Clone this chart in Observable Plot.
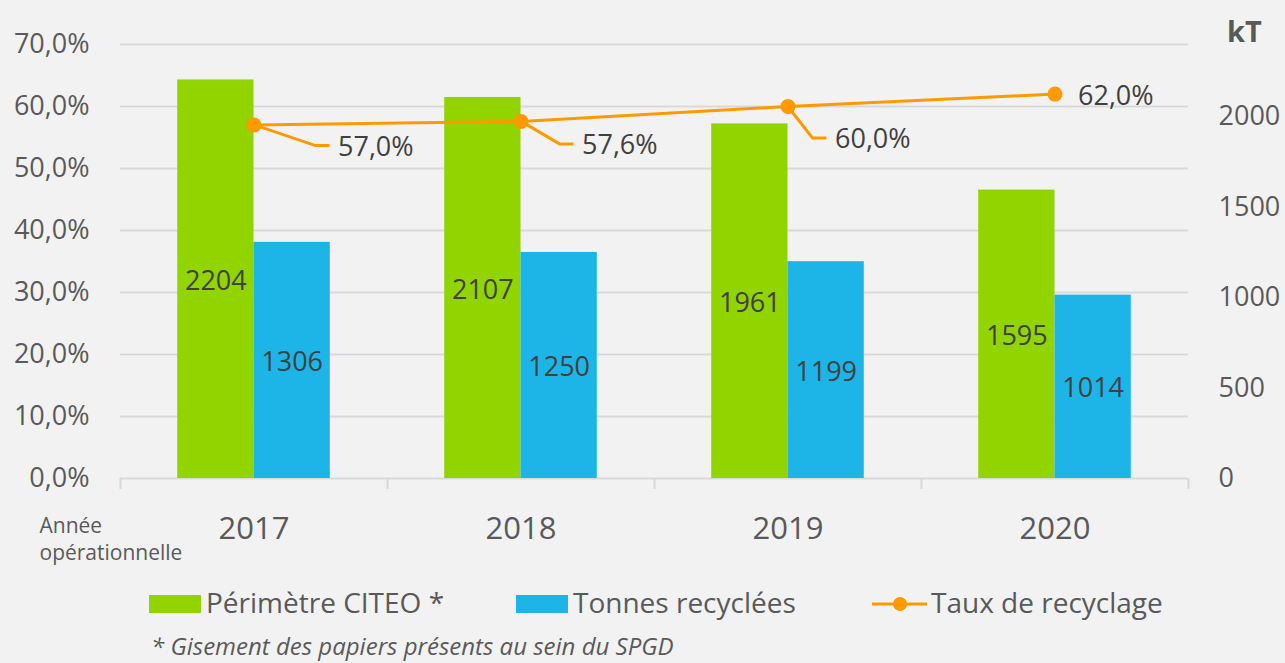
<!DOCTYPE html>
<html>
<head>
<meta charset="utf-8">
<script src="https://cdn.jsdelivr.net/npm/d3@7"></script>
<script src="https://cdn.jsdelivr.net/npm/@observablehq/plot@0.6"></script>
<style>
  html, body { margin: 0; padding: 0; background: #f2f2f2; }
  body { width: 1285px; height: 663px; position: relative; overflow: hidden; font-family: "Open Sans", sans-serif; }
  #chart svg { display: block; background: #f2f2f2; }
  .leg { position: absolute; font-size: 28px; color: #595959; line-height: 1; white-space: nowrap; }
  .sw { position: absolute; }
  #note { position: absolute; left: 151px; top: 634px; font-size: 24px; font-style: italic; color: #595959; white-space: nowrap; line-height: 1; }
</style>
</head>
<body>
<div id="chart"></div>
<div class="sw" style="left:149px;top:595px;width:52px;height:18px;background:#92d400"></div>
<div class="leg" style="left:206px;top:588px">Périmètre CITEO *</div>
<div class="sw" style="left:516px;top:595px;width:52px;height:18px;background:#1db5e8"></div>
<div class="leg" style="left:573px;top:588px">Tonnes recyclées</div>
<svg class="sw" style="left:872px;top:596px" width="56" height="16"><line x1="0" y1="8" x2="55" y2="8" stroke="#ff9900" stroke-width="3"/><circle cx="28" cy="8" r="7" fill="#ff9900"/></svg>
<div class="leg" style="left:931px;top:588px">Taux de recyclage</div>
<div id="note">* Gisement des papiers présents au sein du SPGD</div>
<script>
// ---- data ----
const years = ["2017", "2018", "2019", "2020"];
const perimetre = [2204, 2107, 1961, 1595];   // kT, Périmètre CITEO
const tonnes = [1306, 1250, 1199, 1014];      // kT, Tonnes recyclées
const taux = [0.570, 0.576, 0.600, 0.620];    // Taux de recyclage
const pctTicks = [0, 0.1, 0.2, 0.3, 0.4, 0.5, 0.6, 0.7];
const kTTicks = [0, 500, 1000, 1500, 2000];

// ---- layout ----
const pMax = 0.7, kMax = 2400;
const toP = k => k * pMax / kMax;
const bw = 0.2857;
const labelDx = [84, 61, 47, 23];
const labelDy = [21, 23, 32, 1];
const leader = [true, true, true, false];

const rows = years.map((y, i) => ({ year: y, i, per: perimetre[i], ton: tonnes[i], rate: taux[i] }));
const fmtPct = d => (d * 100).toFixed(1).replace(".", ",") + "%";

const leaders = (index, scales) => {
  const g = d3.create("svg:g");
  rows.forEach((d, i) => {
    if (!leader[i]) return;
    const px = scales.x(d.i + 0.5), py = scales.y(d.rate);
    const ex = px + labelDx[i] - 22, ey = py + labelDy[i];
    g.append("polyline")
      .attr("points", `${px},${py} ${ex},${ey} ${px + labelDx[i] - 8},${ey}`)
      .attr("fill", "none").attr("stroke", "#ff9900").attr("stroke-width", 3);
  });
  return g.node();
};

const chart = Plot.plot({
  width: 1285,
  height: 565,
  marginLeft: 120,
  marginRight: 97,
  marginTop: 44,
  marginBottom: 87,
  style: { background: "#f2f2f2", color: "#595959", fontFamily: "Open Sans, sans-serif", overflow: "visible" },
  x: { type: "linear", domain: [0, years.length], axis: null },
  y: { domain: [0, pMax], axis: null },
  marks: [
    Plot.gridY(pctTicks.slice(1), { stroke: "#d9d9d9", strokeWidth: 2, strokeOpacity: 1 }),
    Plot.ruleY([0], { stroke: "#d9d9d9", strokeWidth: 2 }),
    Plot.axisX(d3.range(years.length + 1), { tickSize: 11, tickFormat: () => "", label: null, stroke: "#d9d9d9", strokeWidth: 2, strokeOpacity: 1 }),
    Plot.axisX(rows.map(d => d.i + 0.5), { tickSize: 0, tickPadding: 38, fontSize: 31, label: null, tickFormat: v => years[Math.floor(v)] }),
    Plot.axisY(pctTicks, { anchor: "left", tickSize: 0, tickPadding: 31, fontSize: 27, label: null, tickFormat: fmtPct }),
    Plot.axisY(kTTicks.map(toP), { anchor: "right", tickSize: 0, tickPadding: 30, fontSize: 27, label: null, tickFormat: v => String(Math.round(v * kMax / pMax)) }),
    Plot.rectY(rows, { x1: d => d.i + 0.5 - bw, x2: d => d.i + 0.5, y1: 0, y2: d => toP(d.per), fill: "#92d400" }),
    Plot.rectY(rows, { x1: d => d.i + 0.5, x2: d => d.i + 0.5 + bw, y1: 0, y2: d => toP(d.ton), fill: "#1db5e8" }),
    Plot.text(rows, { x: d => d.i + 0.5 - bw / 2, y: d => toP(d.per) / 2, text: d => String(d.per), fill: "#404040", fontSize: 27, dy: 2 }),
    Plot.text(rows, { x: d => d.i + 0.5 + bw / 2, y: d => toP(d.ton) / 2, text: d => String(d.ton), fill: "#404040", fontSize: 27, dy: 2 }),
    leaders,
    Plot.line(rows, { x: d => d.i + 0.5, y: "rate", stroke: "#ff9900", strokeWidth: 3 }),
    Plot.dot(rows, { x: d => d.i + 0.5, y: "rate", r: 7.5, fill: "#ff9900" }),
    ...rows.map((d, i) => Plot.text([d], { x: d => d.i + 0.5, y: "rate", text: d => fmtPct(d.rate), textAnchor: "start", dx: labelDx[i], dy: labelDy[i] + 1, fill: "#404040", fontSize: 27 })),
    Plot.text(["kT"], { x: years.length, y: pMax, text: d => d, dx: 56, dy: -12, fontSize: 29, fontWeight: "bold", fill: "#595959" }),
    Plot.text(["Année\nopérationnelle"], { x: 0, y: 0, text: d => d, textAnchor: "start", lineAnchor: "top", dx: -81, dy: 35, fontSize: 21, lineHeight: 1.3, fill: "#595959" })
  ]
});
document.getElementById("chart").appendChild(chart);
</script>
</body>
</html>
